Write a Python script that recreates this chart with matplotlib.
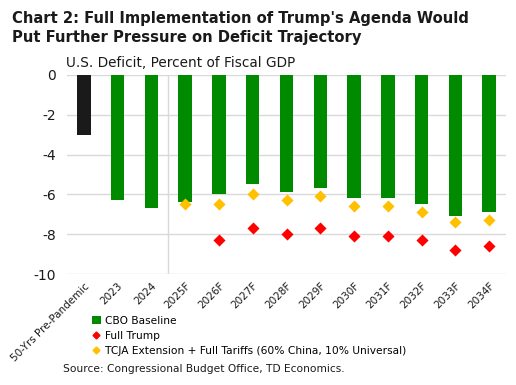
import matplotlib.pyplot as plt
from matplotlib.lines import Line2D
from matplotlib.patches import Patch

# data
cats = ['50-Yrs Pre-Pandemic', '2023', '2024', '2025F', '2026F', '2027F', '2028F',
        '2029F', '2030F', '2031F', '2032F', '2033F', '2034F']
cbo = [-3.0, -6.3, -6.7, -6.4, -6.0, -5.5, -5.9, -5.7, -6.2, -6.2, -6.5, -7.1, -6.9]
full_trump = [None, None, None, None, -8.3, -7.7, -8.0, -7.7, -8.1, -8.1, -8.3, -8.8, -8.6]
tcja = [None, None, None, -6.5, -6.5, -6.0, -6.3, -6.1, -6.6, -6.6, -6.9, -7.4, -7.3]

green = '#008A00'
red = '#FF0000'
gold = '#FFC000'

plt.rcParams['font.family'] = ['DejaVu Sans']

fig = plt.figure(figsize=(5.16, 3.85), dpi=100)
ax = fig.add_axes([67/516, 1 - 274/385, 439/516, 199/385])

x = list(range(len(cats)))
colors = ['#1A1A1A'] + [green] * (len(cats) - 1)
ax.bar(x, cbo, width=0.4, color=colors, zorder=2)

xt = [i for i in x if full_trump[i] is not None]
ax.scatter(xt, [full_trump[i] for i in xt], marker='D', s=38, color=red, zorder=3, linewidths=0)
xc = [i for i in x if tcja[i] is not None]
ax.scatter(xc, [tcja[i] for i in xc], marker='D', s=38, color=gold, zorder=3, linewidths=0)

ax.set_xlim(-0.5, len(cats) - 0.5)
ax.set_ylim(-10, 0)
ax.set_yticks([0, -2, -4, -6, -8, -10])
ax.set_yticklabels(['0', '-2', '-4', '-6', '-8', '-10'])
ax.yaxis.grid(True, color='#D9D9D9', linewidth=1, zorder=0)
ax.axvline(2.5, color='#D9D9D9', linewidth=1, zorder=0)
ax.set_axisbelow(True)
for s in ax.spines.values():
    s.set_visible(False)
ax.tick_params(length=0, labelsize=10, colors='#1A1A1A')
ax.tick_params(axis='y', pad=8)
ax.set_xticks(x)
ax.set_xticklabels(cats, rotation=45, ha='right', rotation_mode='anchor', fontsize=7.5)
ax.tick_params(axis='x', pad=5)

fig.text(12/516, 1 - 28/385, "Chart 2: Full Implementation of Trump's Agenda Would\nPut Further Pressure on Deficit Trajectory",
         fontsize=10.6, fontweight='bold', va='center', ha='left', linespacing=1.35, color='#1A1A1A')
fig.text(66/516, 1 - 63/385, 'U.S. Deficit, Percent of Fiscal GDP', fontsize=9.8,
         va='center', ha='left', color='#1A1A1A')

handles = [Patch(facecolor=green, edgecolor='none'),
           Line2D([], [], marker='D', color=red, linestyle='none', markersize=3.5),
           Line2D([], [], marker='D', color=gold, linestyle='none', markersize=3.5)]
labels = ['CBO Baseline', 'Full Trump', 'TCJA Extension + Full Tariffs (60% China, 10% Universal)']
fig.legend(handles, labels, loc='upper left', bbox_to_anchor=(92/516, 1 - 316/385), frameon=False,
           fontsize=7.7, handlelength=0.8, handleheight=0.8, handletextpad=0.4,
           labelspacing=0.45, borderaxespad=0, borderpad=0)

fig.text(63/516, 1 - 369/385, 'Source: Congressional Budget Office, TD Economics.', fontsize=7.7,
         va='center', ha='left', color='#1A1A1A')

fig.savefig('out.png', dpi=100)
